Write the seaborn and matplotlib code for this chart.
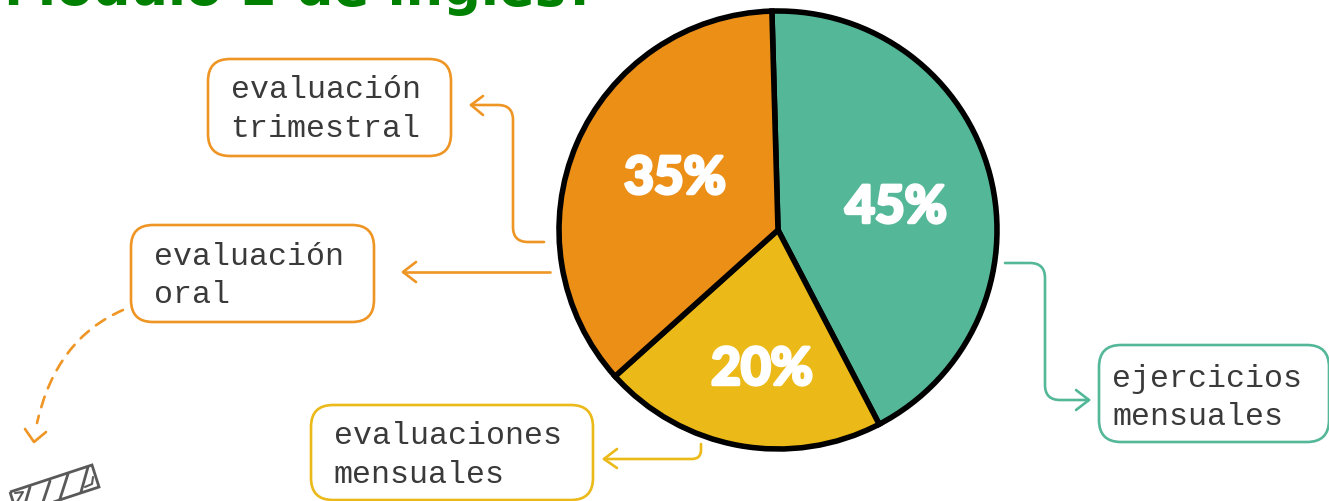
import numpy as np
import matplotlib
matplotlib.use('Agg')
import matplotlib.pyplot as plt
import seaborn as sns
from matplotlib.patches import FancyBboxPatch, PathPatch, Polygon
from matplotlib.path import Path
import matplotlib.patheffects as pe

# slice sizes follow the angles as drawn, the printed labels say 45/20/35
slice_sizes = [42.8, 21.0, 36.2]
slice_labels = ['45%', '20%', '35%']
slice_colors = ['#54B798', '#EBB918', '#EC8F17']
title_text = 'Módulo 2 de inglés?'
box_orange = '#EE9524'
box_yellow = '#EBB918'
box_green = '#54B798'

W, H = 1329, 502

sns.set_theme(style='white')
plt.rcParams['font.family'] = ['Liberation Mono', 'DejaVu Sans']

fig = plt.figure(figsize=(W / 100, H / 100), dpi=100)
ax = fig.add_axes([0, 0, 1, 1])


def fy(y):
    # picture pixels count from the top
    return H - y


def rounded_line(points, color, radius=15, lw=1.9, ls='-'):
    verts = [(points[0][0], fy(points[0][1]))]
    codes = [Path.MOVETO]
    for i in range(1, len(points) - 1):
        p0, p1, p2 = [np.array(points[j], float) for j in (i - 1, i, i + 1)]
        a = p1 + (p0 - p1) / np.linalg.norm(p0 - p1) * radius
        b = p1 + (p2 - p1) / np.linalg.norm(p2 - p1) * radius
        verts += [(a[0], fy(a[1])), (p1[0], fy(p1[1])), (b[0], fy(b[1]))]
        codes += [Path.LINETO, Path.CURVE3, Path.CURVE3]
    verts.append((points[-1][0], fy(points[-1][1])))
    codes.append(Path.LINETO)
    ax.add_patch(PathPatch(Path(verts, codes), fill=False, edgecolor=color, lw=lw, ls=ls, capstyle='round'))


def chevron(tip, end1, end2, color, lw=1.9):
    xs = [end1[0], tip[0], end2[0]]
    ys = [fy(end1[1]), fy(tip[1]), fy(end2[1])]
    ax.plot(xs, ys, color=color, lw=lw, solid_capstyle='round', solid_joinstyle='round')


def label_box(x0, y0, x1, y1, color, lines, tx, baselines):
    ax.add_patch(FancyBboxPatch((x0 + 22, fy(y1) + 22), x1 - x0 - 44, y1 - y0 - 44,
                                boxstyle='round,pad=22,rounding_size=22',
                                facecolor='white', edgecolor=color, lw=1.9))
    for line, base in zip(lines, baselines):
        ax.text(tx, fy(base), line, fontsize=22.8, color='#3a3a3a', ha='left', va='baseline')


# pie
wedges, _ = ax.pie(slice_sizes, colors=sns.color_palette(slice_colors), startangle=91.6,
                   counterclock=False, center=(778, fy(231)), radius=219,
                   wedgeprops={'edgecolor': 'black', 'linewidth': 4})
ax.set_xlim(0, W)
ax.set_ylim(0, H)
ax.set_aspect('equal')
ax.axis('off')

pct_style = dict(fontsize=37, color='white', ha='center', va='center', fontweight='bold',
                 family='Lato', path_effects=[pe.withStroke(linewidth=2.5, foreground='white')])
ax.text(896, fy(209), slice_labels[0], **pct_style)
ax.text(762, fy(371), slice_labels[1], **pct_style)
ax.text(675, fy(180), slice_labels[2], **pct_style)

# cut off title along the top
ax.text(4, fy(5), title_text, fontsize=38, color='#008000', fontweight='bold', family='DejaVu Sans',
        ha='left', va='baseline', clip_on=False)

# boxes
label_box(208, 60, 451, 157, box_orange, ['evaluación', 'trimestral'], 230.5, [98, 137])
label_box(131, 226, 374, 323, box_orange, ['evaluación', 'oral'], 153.5, [265, 303])
label_box(311, 406, 593, 501, box_yellow, ['evaluaciones', 'mensuales'], 333.5, [444, 483])
label_box(1099, 346, 1329, 443, box_green, ['ejercicios', 'mensuales'], 1112.5, [387, 425])

# connectors
rounded_line([(544, 243), (513, 243), (513, 106), (471, 106)], box_orange)
chevron((471, 106), (483, 97), (483, 116), box_orange)
rounded_line([(550, 273), (403, 273)], box_orange)
chevron((403, 273), (416, 263), (416, 283), box_orange)
rounded_line([(701, 445), (701, 460), (604, 460)], box_yellow, radius=9)
chevron((604, 460), (617, 450), (617, 469), box_yellow)
rounded_line([(1005, 264), (1045, 264), (1045, 401), (1089, 401)], box_green)
chevron((1089, 401), (1076, 391), (1076, 411), box_green)

# dashed curved arrow down from the oral box
curve = [(123, 311), (56, 340), (37, 424)]
ax.add_patch(PathPatch(Path([(x, fy(y)) for x, y in curve], [Path.MOVETO, Path.CURVE3, Path.CURVE3]),
                       fill=False, edgecolor=box_orange, lw=1.9, ls=(0, (4.2, 3.4)), capstyle='round'))
chevron((34, 443), (25, 430), (46, 433), box_orange)

# grey ruler icon, cut off by the bottom edge
icon_grey = '#595959'
ax.add_patch(Polygon([(10, fy(493)), (92, fy(466)), (99, fy(488)), (17, fy(515))], closed=True,
                     fill=False, edgecolor=icon_grey, lw=2, clip_on=True))
for x_top, y_top, x_bot, y_bot in [(30, 488, 25, 505), (50, 482, 43, 503), (68, 475, 59, 503), (88, 468, 81, 493)]:
    ax.plot([x_top, x_bot], [fy(y_top), fy(y_bot)], color=icon_grey, lw=2)
ax.plot([15, 23, 17], [fy(494), fy(493), fy(503)], color=icon_grey, lw=1.5)
ax.plot([85, 92, 93], [fy(488), fy(485), fy(478)], color=icon_grey, lw=1.5)

fig.savefig('out.png', dpi=100, facecolor='white')
